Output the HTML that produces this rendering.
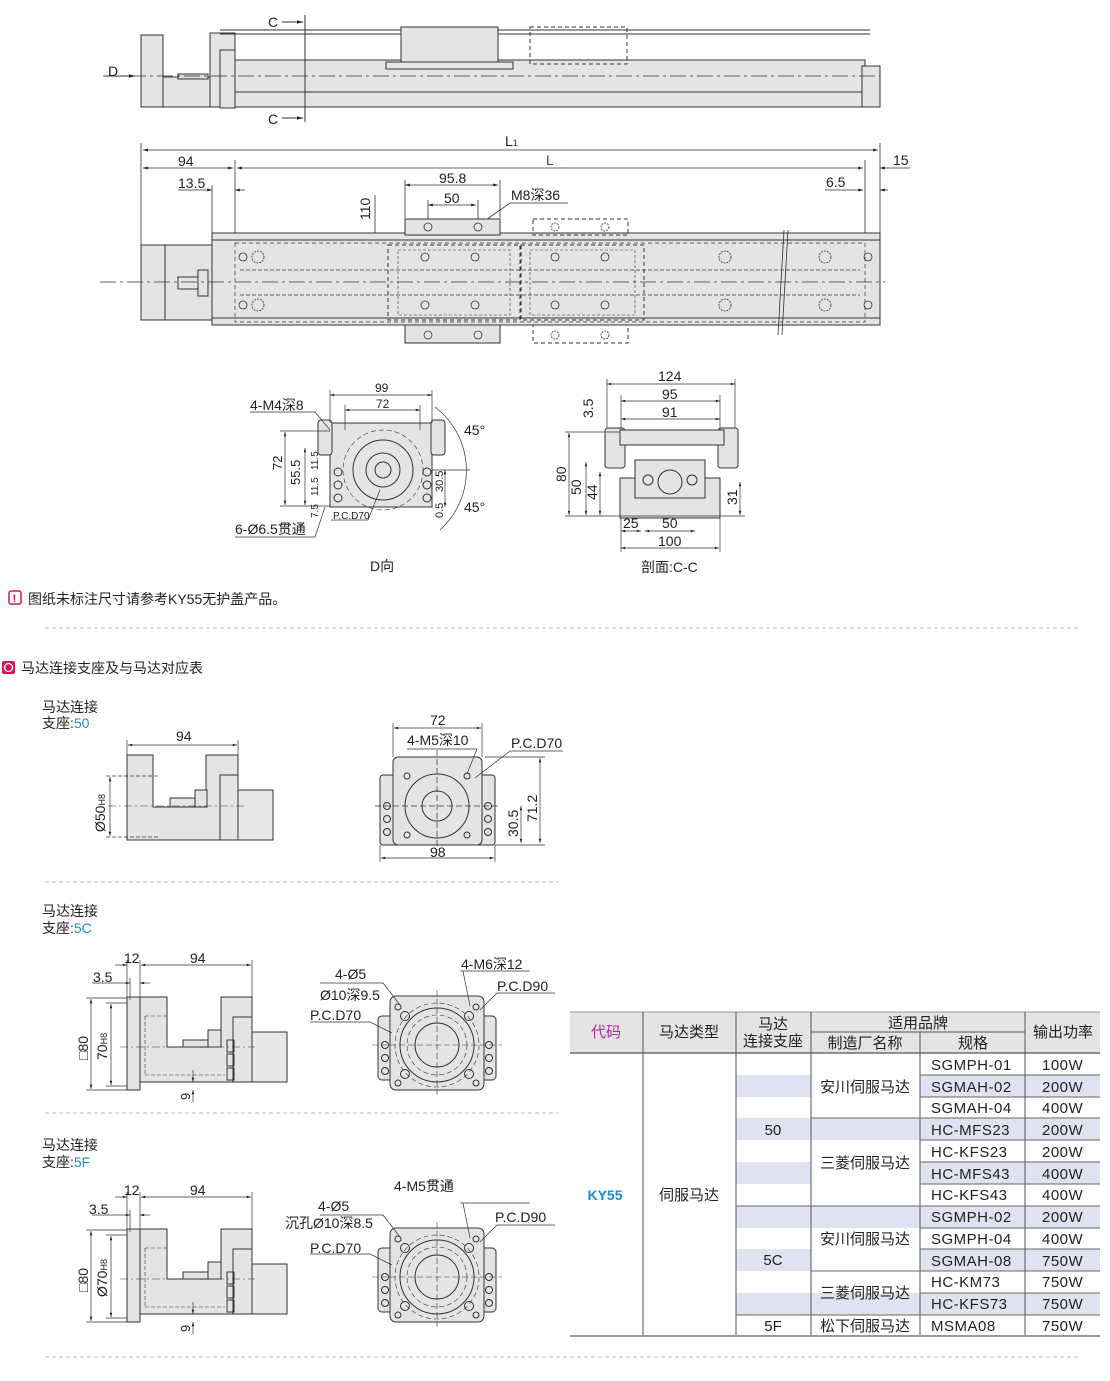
<!DOCTYPE html>
<html><head><meta charset="utf-8"><style>
html,body{margin:0;padding:0;background:#fff}
svg{display:block}
text{font-family:"Liberation Sans","Noto Sans CJK SC",sans-serif;fill:#222}
</style></head><body>
<svg width="1110" height="1381" viewBox="0 0 1110 1381" xmlns="http://www.w3.org/2000/svg">
<defs>
<marker id="a" viewBox="0 0 10 10" refX="10" refY="5" markerWidth="8" markerHeight="6" orient="auto-start-reverse"><path d="M0,2L10,5L0,8z" fill="#222"/></marker>
</defs>
<g stroke="#333" stroke-width="1" fill="none">
<!-- ===== TOP SIDE VIEW ===== -->
<rect x="141" y="35" width="22" height="72" fill="#e4e4e4"/>
<rect x="163" y="77" width="50" height="30" fill="#e4e4e4"/>
<path d="M178 74h30v5h-30z" fill="#ddd"/>
<rect x="210" y="33" width="25" height="74" fill="#e4e4e4"/>
<rect x="220" y="50" width="15" height="58" fill="#e4e4e4"/>
<rect x="235" y="60" width="630" height="47" fill="#e4e4e4"/>
<line x1="235" y1="92" x2="865" y2="92"/>
<line x1="220" y1="30" x2="870" y2="30"/>
<line x1="220" y1="34" x2="870" y2="34"/>
<rect x="401" y="27" width="97" height="41" fill="#e4e4e4"/>
<rect x="386" y="62" width="127" height="7" fill="#e4e4e4"/>
<rect x="530" y="27" width="97" height="37" stroke-dasharray="4,3"/>
<rect x="862" y="66" width="18" height="41" fill="#e4e4e4"/>
<line x1="103" y1="76" x2="880" y2="76" stroke-dasharray="16,4,3,4" stroke-width=".7"/>
<line x1="305" y1="15" x2="305" y2="122"/>
<line x1="282" y1="22" x2="303" y2="22" marker-end="url(#a)"/>
<line x1="282" y1="118" x2="303" y2="118" marker-end="url(#a)"/>
<line x1="105" y1="76" x2="135" y2="76" marker-end="url(#a)"/>
<!-- ===== DIMENSIONS ===== -->
<g stroke-width=".8">
<line x1="141" y1="143" x2="141" y2="245"/><line x1="880" y1="143" x2="880" y2="233"/>
<line x1="143" y1="150" x2="878" y2="150" marker-start="url(#a)" marker-end="url(#a)"/>
<line x1="143" y1="168" x2="233" y2="168" marker-start="url(#a)" marker-end="url(#a)"/>
<line x1="237" y1="168" x2="863" y2="168" marker-start="url(#a)" marker-end="url(#a)"/>
<line x1="865" y1="160" x2="865" y2="233"/><line x1="235" y1="160" x2="235" y2="233"/>
<line x1="880" y1="168" x2="910" y2="168" marker-start="url(#a)"/>
<line x1="178" y1="190" x2="212" y2="190" marker-end="url(#a)"/><line x1="235" y1="190" x2="245" y2="190" marker-start="url(#a)"/>
<line x1="212" y1="185" x2="212" y2="233"/>
<line x1="825" y1="190" x2="863" y2="190" marker-end="url(#a)"/><line x1="880" y1="190" x2="888" y2="190" marker-start="url(#a)"/>
<line x1="405" y1="185" x2="498" y2="185" marker-start="url(#a)" marker-end="url(#a)"/>
<line x1="428" y1="205" x2="476" y2="205" marker-start="url(#a)" marker-end="url(#a)"/>
<line x1="405" y1="180" x2="405" y2="218"/><line x1="500" y1="180" x2="500" y2="218"/>
<line x1="428" y1="200" x2="428" y2="225"/><line x1="478" y1="200" x2="478" y2="225"/>
<path d="M568 203H510L483 222"/>
<line x1="375" y1="195" x2="375" y2="300"/>
</g>
<!-- ===== PLAN VIEW ===== -->
<rect x="141" y="245" width="71" height="75" fill="#e4e4e4"/>
<line x1="165" y1="245" x2="165" y2="320"/>
<rect x="178" y="277" width="20" height="12" fill="#e4e4e4"/>
<rect x="198" y="270" width="10" height="26"/>
<rect x="212" y="233" width="668" height="92" fill="#e4e4e4"/>
<line x1="212" y1="240" x2="880" y2="240"/><line x1="212" y1="318" x2="880" y2="318"/>
<rect x="235" y="243" width="630" height="79" stroke-dasharray="4,3" stroke-width=".7"/>
<line x1="240" y1="270" x2="860" y2="270" stroke-dasharray="4,2" stroke-width=".7"/>
<line x1="240" y1="295" x2="860" y2="295" stroke-dasharray="4,2" stroke-width=".7"/>
<line x1="100" y1="282" x2="885" y2="282" stroke-dasharray="16,4,3,4" stroke-width=".7"/>
<rect x="405" y="219" width="95" height="16" fill="#e4e4e4"/>
<rect x="405" y="325" width="95" height="18" fill="#e4e4e4"/>
<rect x="533" y="219" width="95" height="16" stroke-dasharray="4,3"/>
<rect x="533" y="325" width="95" height="18" stroke-dasharray="4,3"/>
<rect x="388" y="245" width="132" height="75" stroke-dasharray="4,3"/>
<rect x="521" y="245" width="123" height="75" stroke-dasharray="4,3"/>
<rect x="398" y="250" width="112" height="65" stroke-dasharray="3,2" stroke-width=".6"/>
<rect x="530" y="250" width="105" height="65" stroke-dasharray="3,2" stroke-width=".6"/>
<path d="M784 230L778 335" stroke-width=".8"/><path d="M788 230L782 335" stroke-width=".8"/>
<g stroke-width=".8">
<circle cx="243" cy="257" r="4"/><circle cx="243" cy="305" r="4"/><circle cx="868" cy="257" r="4"/><circle cx="868" cy="305" r="4"/>
<circle cx="428" cy="227" r="4"/><circle cx="478" cy="227" r="4"/><circle cx="428" cy="335" r="4"/><circle cx="478" cy="335" r="4"/>
<circle cx="425" cy="257" r="4"/><circle cx="475" cy="257" r="4"/><circle cx="425" cy="305" r="4"/><circle cx="475" cy="305" r="4"/>
<circle cx="555" cy="257" r="4"/><circle cx="605" cy="257" r="4"/><circle cx="555" cy="305" r="4"/><circle cx="605" cy="305" r="4"/>
<circle cx="555" cy="227" r="4" stroke-dasharray="2,1"/><circle cx="605" cy="227" r="4" stroke-dasharray="2,1"/>
<circle cx="555" cy="335" r="4" stroke-dasharray="2,1"/><circle cx="605" cy="335" r="4" stroke-dasharray="2,1"/>
<circle cx="258" cy="257" r="6" stroke-dasharray="2,1"/><circle cx="258" cy="305" r="6" stroke-dasharray="2,1"/>
<circle cx="725" cy="257" r="6" stroke-dasharray="2,1"/><circle cx="725" cy="305" r="6" stroke-dasharray="2,1"/>
<circle cx="825" cy="257" r="6" stroke-dasharray="2,1"/><circle cx="825" cy="305" r="6" stroke-dasharray="2,1"/>
</g>
<!-- ===== D VIEW ===== -->
<rect x="330" y="423" width="102" height="84" fill="#e4e4e4"/>
<rect x="318" y="420" width="14" height="35" rx="3" fill="#e4e4e4"/>
<rect x="431" y="420" width="14" height="35" rx="3" fill="#e4e4e4"/>
<circle cx="383" cy="470" r="30"/><circle cx="383" cy="470" r="17"/><circle cx="383" cy="470" r="8"/>
<circle cx="383" cy="470" r="40" stroke-dasharray="5,3" stroke-width=".6"/>
<circle cx="338" cy="472" r="4"/><circle cx="338" cy="485" r="4"/><circle cx="338" cy="498" r="4"/>
<circle cx="427" cy="472" r="4"/><circle cx="427" cy="485" r="4"/><circle cx="427" cy="498" r="4"/>
<g stroke-width=".7">
<line x1="330" y1="395" x2="432" y2="395" marker-start="url(#a)" marker-end="url(#a)"/>
<line x1="345" y1="410" x2="420" y2="410" marker-start="url(#a)" marker-end="url(#a)"/>
<line x1="330" y1="390" x2="330" y2="423"/><line x1="432" y1="390" x2="432" y2="423"/>
<line x1="345" y1="405" x2="345" y2="430"/><line x1="420" y1="405" x2="420" y2="430"/>
<line x1="285" y1="432" x2="285" y2="505" marker-start="url(#a)" marker-end="url(#a)"/>
<line x1="305" y1="448" x2="305" y2="505" marker-start="url(#a)" marker-end="url(#a)"/>
<line x1="280" y1="431" x2="330" y2="431"/><line x1="280" y1="506" x2="330" y2="506"/>
<line x1="445" y1="470" x2="445" y2="507" marker-start="url(#a)" marker-end="url(#a)"/>
<path d="M435 407A80 80 0 0 1 440 530" /><line x1="432" y1="470" x2="470" y2="470"/>
<path d="M250 412H315L330 430"/><path d="M235 537H315L325 507"/><path d="M331 520H368L380 490"/>
</g>
<!-- ===== C-C ===== -->
<rect x="605" y="428" width="20" height="40" rx="3" fill="#e4e4e4"/><rect x="718" y="428" width="20" height="40" rx="3" fill="#e4e4e4"/>
<path d="M620 430H724V445H620z" fill="#e4e4e4"/>
<rect x="620" y="478" width="100" height="40" fill="#e4e4e4"/>
<rect x="635" y="460" width="70" height="38" fill="#e4e4e4"/>
<circle cx="670" cy="482" r="12"/><circle cx="648" cy="480" r="5"/><circle cx="692" cy="480" r="5"/>
<g stroke-width=".7">
<line x1="607" y1="384" x2="735" y2="384" marker-start="url(#a)" marker-end="url(#a)"/>
<line x1="621" y1="401" x2="720" y2="401" marker-start="url(#a)" marker-end="url(#a)"/>
<line x1="621" y1="419" x2="720" y2="419" marker-start="url(#a)" marker-end="url(#a)"/>
<line x1="607" y1="379" x2="607" y2="428"/><line x1="735" y1="379" x2="735" y2="428"/>
<line x1="621" y1="395" x2="621" y2="430"/><line x1="720" y1="395" x2="720" y2="430"/>
<line x1="569" y1="433" x2="569" y2="515" marker-start="url(#a)" marker-end="url(#a)"/>
<line x1="586" y1="462" x2="586" y2="515" marker-start="url(#a)" marker-end="url(#a)"/>
<line x1="600" y1="472" x2="600" y2="515" marker-start="url(#a)" marker-end="url(#a)"/>
<line x1="740" y1="482" x2="740" y2="515" marker-start="url(#a)" marker-end="url(#a)"/>
<line x1="565" y1="432" x2="620" y2="432"/><line x1="565" y1="516" x2="745" y2="516"/>
<line x1="621" y1="548" x2="719" y2="548" marker-start="url(#a)" marker-end="url(#a)"/>
<line x1="621" y1="531" x2="641" y2="531" marker-start="url(#a)" marker-end="url(#a)"/>
<line x1="645" y1="531" x2="695" y2="531" marker-start="url(#a)" marker-end="url(#a)"/>
<line x1="621" y1="518" x2="621" y2="552"/><line x1="720" y1="518" x2="720" y2="552"/>
</g>
<!-- ===== separators ===== -->
<line x1="45" y1="628" x2="1078" y2="628" stroke="#bbb" stroke-dasharray="4,3"/>
<line x1="45" y1="882" x2="558" y2="882" stroke="#bbb" stroke-dasharray="4,3"/>
<line x1="45" y1="1113" x2="558" y2="1113" stroke="#bbb" stroke-dasharray="4,3"/>
<line x1="45" y1="1357" x2="1078" y2="1357" stroke="#bbb" stroke-dasharray="4,3"/>
<!-- ===== 50 bracket ===== -->
<path d="M127 755H153V807H206V755H238V840H127Z" fill="#e4e4e4"/>
<rect x="220" y="775" width="18" height="65" fill="#e4e4e4"/>
<rect x="238" y="790" width="35" height="50" fill="#e8e8e8"/>
<rect x="170" y="798" width="25" height="9" fill="#e4e4e4"/><rect x="195" y="790" width="12" height="17" fill="#e4e4e4"/>
<line x1="108" y1="806" x2="245" y2="806" stroke-dasharray="8,3,2,3" stroke-width=".6"/>
<g stroke-width=".7">
<line x1="128" y1="745" x2="237" y2="745" marker-start="url(#a)" marker-end="url(#a)"/>
<line x1="127" y1="740" x2="127" y2="755"/><line x1="238" y1="740" x2="238" y2="755"/>
<line x1="110" y1="777" x2="110" y2="836" marker-start="url(#a)" marker-end="url(#a)"/>
<line x1="106" y1="776" x2="160" y2="776" stroke-dasharray="4,2"/><line x1="106" y1="837" x2="160" y2="837" stroke-dasharray="4,2"/>
</g>
<!-- 50 flange -->
<rect x="380" y="775" width="115" height="70" rx="3" fill="#e4e4e4"/>
<rect x="393" y="757" width="89" height="88" rx="5" fill="#e4e4e4"/>
<circle cx="437" cy="806" r="32"/><circle cx="437" cy="806" r="15"/>
<circle cx="407" cy="776" r="3"/><circle cx="467" cy="776" r="3"/><circle cx="407" cy="835" r="3"/><circle cx="467" cy="835" r="3"/>
<circle cx="387" cy="806" r="3.5"/><circle cx="387" cy="819" r="3.5"/><circle cx="387" cy="832" r="3.5"/>
<circle cx="488" cy="806" r="3.5"/><circle cx="488" cy="819" r="3.5"/><circle cx="488" cy="832" r="3.5"/>
<g stroke-width=".7">
<line x1="375" y1="806" x2="500" y2="806" stroke-dasharray="6,3"/><line x1="437" y1="750" x2="437" y2="850" stroke-dasharray="6,3"/>
<line x1="394" y1="728" x2="481" y2="728" marker-start="url(#a)" marker-end="url(#a)"/>
<line x1="381" y1="858" x2="494" y2="858" marker-start="url(#a)" marker-end="url(#a)"/>
<line x1="393" y1="723" x2="393" y2="757"/><line x1="482" y1="723" x2="482" y2="757"/>
<line x1="380" y1="845" x2="380" y2="862"/><line x1="495" y1="845" x2="495" y2="862"/>
<line x1="540" y1="758" x2="540" y2="843" marker-start="url(#a)" marker-end="url(#a)"/>
<line x1="521" y1="806" x2="521" y2="843" marker-start="url(#a)" marker-end="url(#a)"/>
<line x1="485" y1="757" x2="545" y2="757"/><line x1="495" y1="845" x2="545" y2="845"/>
<path d="M407 749H477L467 774"/><path d="M563 751H510L475 778"/>
</g>
</g>
<!-- 5C & 5F brackets (shared) -->
<g id="b5" stroke="#333" stroke-width="1" fill="none">
<rect x="127" y="997" width="13" height="93" fill="#e4e4e4"/>
<path d="M140 997H167V1047H221V997H252V1082H140Z" fill="#e4e4e4"/>
<rect x="233" y="1017" width="19" height="65" fill="#e4e4e4"/>
<rect x="252" y="1032" width="35" height="50" fill="#e8e8e8"/>
<rect x="183" y="1040" width="25" height="7" fill="#e4e4e4"/><rect x="208" y="1030" width="13" height="17" fill="#e4e4e4"/>
<rect x="227" y="1040" width="7" height="12"/><rect x="227" y="1054" width="7" height="12"/><rect x="227" y="1068" width="7" height="12"/>
<line x1="145" y1="1016" x2="145" y2="1075" stroke-dasharray="4,2" stroke-width=".6"/>
<line x1="145" y1="1016" x2="167" y2="1016" stroke-dasharray="4,2" stroke-width=".6"/>
<line x1="145" y1="1075" x2="225" y2="1075" stroke-dasharray="4,2" stroke-width=".6"/>
<line x1="120" y1="1047" x2="255" y2="1047" stroke-dasharray="8,3,2,3" stroke-width=".6"/>
<g stroke-width=".7">
<line x1="115" y1="965" x2="127" y2="965" marker-end="url(#a)"/><line x1="141" y1="965" x2="251" y2="965" marker-start="url(#a)" marker-end="url(#a)"/>
<line x1="127" y1="960" x2="127" y2="997"/><line x1="140" y1="960" x2="140" y2="997"/><line x1="252" y1="960" x2="252" y2="997"/>
<line x1="92" y1="983" x2="130" y2="983" marker-end="url(#a)"/><line x1="140" y1="983" x2="150" y2="983" marker-start="url(#a)"/>
<line x1="130" y1="978" x2="130" y2="1000"/>
<line x1="91" y1="999" x2="91" y2="1089" marker-start="url(#a)" marker-end="url(#a)"/>
<line x1="111" y1="1004" x2="111" y2="1085" marker-start="url(#a)" marker-end="url(#a)"/>
<line x1="86" y1="998" x2="127" y2="998"/><line x1="86" y1="1090" x2="127" y2="1090"/>
<line x1="106" y1="1003" x2="127" y2="1003"/><line x1="106" y1="1086" x2="127" y2="1086"/>
<line x1="193" y1="1070" x2="193" y2="1082" marker-end="url(#a)"/><line x1="193" y1="1102" x2="193" y2="1090" marker-end="url(#a)"/>
</g>
<!-- flange -->
<rect x="378" y="1016" width="118" height="64" rx="4" fill="#e4e4e4"/>
<rect x="390" y="996" width="94" height="94" rx="6" fill="#e4e4e4"/>
<circle cx="437" cy="1045" r="37"/><circle cx="437" cy="1045" r="22"/>
<circle cx="437" cy="1045" r="30" stroke-dasharray="5,3" stroke-width=".6"/>
<circle cx="437" cy="1045" r="42" stroke-dasharray="5,3" stroke-width=".6"/>
<circle cx="405" cy="1016" r="4.5"/><circle cx="469" cy="1016" r="4.5"/><circle cx="405" cy="1074" r="4.5"/><circle cx="469" cy="1074" r="4.5"/>
<circle cx="398" cy="1007" r="3"/><circle cx="476" cy="1007" r="3"/><circle cx="398" cy="1083" r="3"/><circle cx="476" cy="1083" r="3"/>
<circle cx="385" cy="1045" r="3.5"/><circle cx="385" cy="1058" r="3.5"/><circle cx="385" cy="1071" r="3.5"/>
<circle cx="489" cy="1045" r="3.5"/><circle cx="489" cy="1058" r="3.5"/><circle cx="489" cy="1071" r="3.5"/>
<line x1="372" y1="1045" x2="502" y2="1045" stroke-dasharray="6,3" stroke-width=".6"/>
<line x1="437" y1="990" x2="437" y2="1096" stroke-dasharray="6,3" stroke-width=".6"/>
<g stroke-width=".7">
<path d="M320 983H383L400 1005"/><path d="M460 971H530"/><path d="M463 971L470 1006"/>
<path d="M555 993H497L480 1010"/><path d="M310 1022H370L392 1033"/>
</g>
</g>
<use href="#b5" transform="translate(0,232)"/>
<!-- ===== TABLE ===== -->
<g stroke="none">
<rect x="570" y="1012" width="530" height="41" fill="#e4e4e4"/>
<g fill="#dfe3f1">
<rect x="736" y="1075" width="75" height="22"/><rect x="920" y="1075" width="180" height="22"/>
<rect x="736" y="1118" width="364" height="22"/>
<rect x="736" y="1162" width="75" height="22"/><rect x="920" y="1162" width="180" height="22"/>
<rect x="736" y="1206" width="364" height="22"/>
<rect x="736" y="1249" width="75" height="22"/><rect x="920" y="1249" width="180" height="22"/>
<rect x="736" y="1293" width="364" height="22"/>
</g>
</g>
<g stroke="#555" stroke-width="1" fill="none">
<line x1="570" y1="1012" x2="1100" y2="1012" stroke="#999"/>
<line x1="570" y1="1053" x2="1100" y2="1053" stroke-width="1.2"/>
<line x1="811" y1="1032" x2="1025" y2="1032"/>
<line x1="643" y1="1012" x2="643" y2="1336"/><line x1="736" y1="1012" x2="736" y2="1336"/>
<line x1="811" y1="1012" x2="811" y2="1336"/><line x1="920" y1="1032" x2="920" y2="1336"/>
<line x1="1025" y1="1012" x2="1025" y2="1336"/>
<g stroke="#666">
<line x1="920" y1="1075" x2="1100" y2="1075"/><line x1="920" y1="1097" x2="1100" y2="1097"/>
<line x1="811" y1="1118" x2="1100" y2="1118"/><line x1="920" y1="1140" x2="1100" y2="1140"/>
<line x1="920" y1="1162" x2="1100" y2="1162"/><line x1="920" y1="1184" x2="1100" y2="1184"/>
<line x1="736" y1="1206" x2="1100" y2="1206"/><line x1="920" y1="1228" x2="1100" y2="1228"/>
<line x1="920" y1="1249" x2="1100" y2="1249"/><line x1="811" y1="1271" x2="1100" y2="1271"/>
<line x1="920" y1="1293" x2="1100" y2="1293"/><line x1="736" y1="1315" x2="1100" y2="1315"/>
</g>
<line x1="570" y1="1336" x2="1100" y2="1336" stroke="#999" stroke-width="2"/>
</g>
<!-- icons -->
<rect x="9" y="591" width="12" height="13" rx="2" fill="none" stroke="#d4145a" stroke-width="1.5"/>
<text x="12.5" y="602" font-size="11" style="fill:#d4145a" font-weight="bold">!</text>
<rect x="2" y="661" width="13" height="13" rx="2" fill="#d4145a"/>
<circle cx="8.5" cy="667.5" r="4" fill="none" stroke="#fff" stroke-width="1.3"/>
<!-- ===== TEXT ===== -->
<g font-size="14">
<text x="268" y="27">C</text><text x="268" y="124">C</text><text x="108" y="76">D</text>
<text x="505" y="146">L<tspan font-size="9">1</tspan></text>
<text x="178" y="166">94</text><text x="546" y="165" style="fill:#8a1a6a">L</text><text x="893" y="165">15</text>
<text x="178" y="188">13.5</text><text x="826" y="187">6.5</text>
<text x="439" y="183">95.8</text><text x="444" y="203">50</text><text x="511" y="200">M8深36</text>
<text transform="translate(370,220) rotate(-90)">110</text>
<text x="375" y="392" font-size="12">99</text><text x="376" y="408" font-size="12">72</text>
<text x="250" y="410">4-M4深8</text>
<text x="464" y="435">45°</text><text x="464" y="512">45°</text>
<text x="235" y="534">6-Ø6.5贯通</text>
<text x="333" y="519" font-size="10">P.C.D70</text>
<text transform="translate(282,470) rotate(-90)" font-size="13">72</text>
<text transform="translate(300,485) rotate(-90)" font-size="13">55.5</text>
<text transform="translate(318,470) rotate(-90)" font-size="10">11.5</text>
<text transform="translate(318,496) rotate(-90)" font-size="10">11.5</text>
<text transform="translate(318,518) rotate(-90)" font-size="10">7.5</text>
<text transform="translate(443,492) rotate(-90)" font-size="11">30.5</text>
<text transform="translate(443,518) rotate(-90)" font-size="11">0.5</text>
<text x="370" y="571">D向</text>
<text x="658" y="381">124</text><text x="662" y="399">95</text><text x="662" y="417">91</text>
<text transform="translate(593,418) rotate(-90)">3.5</text>
<text transform="translate(566,482) rotate(-90)">80</text>
<text transform="translate(581,495) rotate(-90)">50</text>
<text transform="translate(597,500) rotate(-90)">44</text>
<text transform="translate(737,505) rotate(-90)">31</text>
<text x="623" y="528">25</text><text x="662" y="528">50</text><text x="658" y="546">100</text>
<text x="641" y="572">剖面:C-C</text>
<text x="28" y="604">图纸未标注尺寸请参考KY55无护盖产品。</text>
<text x="21" y="673">马达连接支座及与马达对应表</text>
<text x="42" y="712">马达连接</text><text x="42" y="728">支座:<tspan style="fill:#1a8ccf">50</tspan></text>
<text x="176" y="741">94</text>
<text transform="translate(105,832) rotate(-90)">Ø50<tspan font-size="9">H8</tspan></text>
<text x="430" y="725">72</text><text x="407" y="745">4-M5深10</text><text x="511" y="748">P.C.D70</text>
<text x="430" y="857">98</text>
<text transform="translate(537,822) rotate(-90)">71.2</text>
<text transform="translate(518,837) rotate(-90)">30.5</text>
<text x="42" y="916">马达连接</text><text x="42" y="933">支座:<tspan style="fill:#1a8ccf">5C</tspan></text>
<text x="124" y="963">12</text><text x="190" y="963">94</text><text x="93" y="982">3.5</text>
<text transform="translate(88,1060) rotate(-90)">□80</text>
<text transform="translate(107,1060) rotate(-90)">70<tspan font-size="9">H8</tspan></text>
<text transform="translate(190,1100) rotate(-90)" font-size="13">9</text>
<text x="335" y="979">4-Ø5</text><text x="320" y="1000">Ø10深9.5</text><text x="310" y="1020">P.C.D70</text>
<text x="461" y="969">4-M6深12</text><text x="497" y="991">P.C.D90</text>
<text x="42" y="1150">马达连接</text><text x="42" y="1167">支座:<tspan style="fill:#1a8ccf">5F</tspan></text>
<text x="124" y="1195">12</text><text x="190" y="1195">94</text><text x="89" y="1214">3.5</text>
<text transform="translate(88,1292) rotate(-90)">□80</text>
<text transform="translate(107,1297) rotate(-90)">Ø70<tspan font-size="9">H8</tspan></text>
<text transform="translate(190,1332) rotate(-90)" font-size="13">9</text>
<text x="318" y="1211">4-Ø5</text><text x="285" y="1228">沉孔Ø10深8.5</text><text x="310" y="1253">P.C.D70</text>
<text x="394" y="1191">4-M5贯通</text><text x="495" y="1222">P.C.D90</text>
</g>
<g font-size="15" text-anchor="middle">
<text x="606" y="1037" style="fill:#a0309a">代码</text>
<text x="689" y="1037">马达类型</text>
<text x="773" y="1029">马达</text><text x="773" y="1046">连接支座</text>
<text x="918" y="1028">适用品牌</text>
<text x="865" y="1048">制造厂名称</text><text x="973" y="1048">规格</text>
<text x="1063" y="1037">输出功率</text>
<text x="605" y="1200" font-weight="bold" style="fill:#1a8ccf" font-size="14">KY55</text>
<text x="689" y="1200">伺服马达</text>
<text x="773" y="1135">50</text><text x="773" y="1265">5C</text><text x="773" y="1331">5F</text>
<text x="865" y="1092">安川伺服马达</text><text x="865" y="1168">三菱伺服马达</text>
<text x="865" y="1244">安川伺服马达</text><text x="865" y="1298">三菱伺服马达</text>
<text x="865" y="1331">松下伺服马达</text>
</g>
<g font-size="15" style="letter-spacing:.5px">
<text x="931" y="1070">SGMPH-01</text><text x="1042" y="1070">100W</text>
<text x="931" y="1092">SGMAH-02</text><text x="1042" y="1092">200W</text>
<text x="931" y="1113">SGMAH-04</text><text x="1042" y="1113">400W</text>
<text x="931" y="1135">HC-MFS23</text><text x="1042" y="1135">200W</text>
<text x="931" y="1157">HC-KFS23</text><text x="1042" y="1157">200W</text>
<text x="931" y="1179">HC-MFS43</text><text x="1042" y="1179">400W</text>
<text x="931" y="1200">HC-KFS43</text><text x="1042" y="1200">400W</text>
<text x="931" y="1222">SGMPH-02</text><text x="1042" y="1222">200W</text>
<text x="931" y="1244">SGMPH-04</text><text x="1042" y="1244">400W</text>
<text x="931" y="1266">SGMAH-08</text><text x="1042" y="1266">750W</text>
<text x="931" y="1287">HC-KM73</text><text x="1042" y="1287">750W</text>
<text x="931" y="1309">HC-KFS73</text><text x="1042" y="1309">750W</text>
<text x="931" y="1331">MSMA08</text><text x="1042" y="1331">750W</text>
</g>
</svg>
</body></html>
